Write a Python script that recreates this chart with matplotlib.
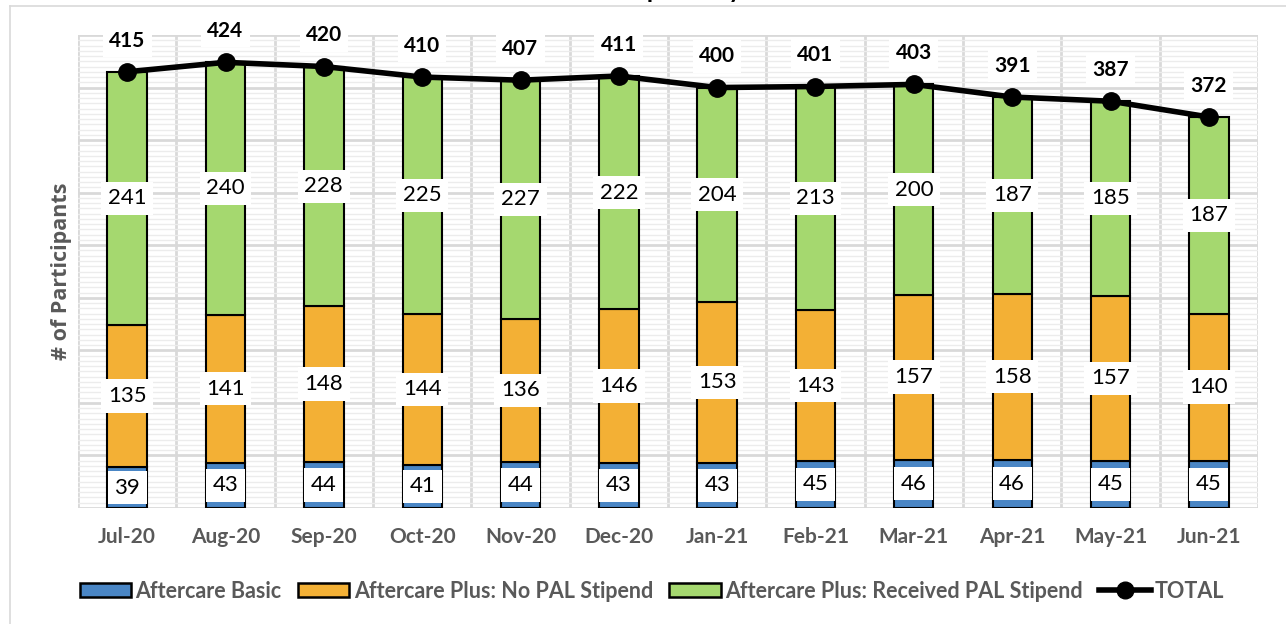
import matplotlib
matplotlib.use('Agg')
import matplotlib.pyplot as plt
import numpy as np
from matplotlib.ticker import MultipleLocator
from matplotlib.lines import Line2D
from matplotlib.patches import Patch

months = ['Jul-20', 'Aug-20', 'Sep-20', 'Oct-20', 'Nov-20', 'Dec-20',
          'Jan-21', 'Feb-21', 'Mar-21', 'Apr-21', 'May-21', 'Jun-21']
basic = [39, 43, 44, 41, 44, 43, 43, 45, 46, 46, 45, 45]
no_pal = [135, 141, 148, 144, 136, 146, 153, 143, 157, 158, 157, 140]
pal = [241, 240, 228, 225, 227, 222, 204, 213, 200, 187, 185, 187]
total = [415, 424, 420, 410, 407, 411, 400, 401, 403, 391, 387, 372]

series_names = ['Aftercare Basic', 'Aftercare Plus: No PAL Stipend',
                'Aftercare Plus: Received PAL Stipend']
colors = ['#4a86c5', '#f3b035', '#a5d86f']
gray = '#595959'

W, H = 1286, 624
fig = plt.figure(figsize=(W / 100, H / 100), dpi=100)
ax = fig.add_axes([78 / W, 1 - 508 / H, 1180 / W, (508 - 35) / H])

x = np.arange(len(months))
width = 0.4
bottoms = np.zeros(len(months))
for vals, col, name in zip([basic, no_pal, pal], colors, series_names):
    vals = np.array(vals, dtype=float)
    ax.bar(x, vals, width, bottom=bottoms, color=col, edgecolor='black',
           linewidth=1.5, zorder=3, label=name)
    for xi, b, v in zip(x, bottoms, vals):
        ax.text(xi, b + v / 2, f'{int(v)}', ha='center', va='center',
                fontsize=16, family='Lato', color='black', zorder=6,
                bbox=dict(boxstyle='square,pad=0.3', fc='white', ec='none'))
    bottoms += vals

ax.plot(x, total, color='black', lw=4, marker='o', markersize=12.5,
        zorder=5, label='TOTAL')
for xi, t in zip(x, total):
    ax.annotate(f'{t}', (xi, t), xytext=(0, 22.5), textcoords='offset points',
                ha='center', va='center', fontsize=15, fontweight='bold',
                family='Lato', zorder=6,
                bbox=dict(boxstyle='square,pad=0.3', fc='white', ec='none'))

ax.set_xlim(-0.5, len(months) - 0.5)
ax.set_ylim(0, 450)
ax.yaxis.set_major_locator(MultipleLocator(50))
ax.yaxis.set_minor_locator(MultipleLocator(5))
ax.set_xticks(np.arange(-0.5, len(months)), minor=True)
ax.set_xticks(x)
ax.set_xticklabels(months, fontsize=15, fontweight='bold', color=gray,
                   family='Lato')
ax.tick_params(axis='x', which='both', length=0, pad=14)
ax.tick_params(axis='y', which='both', length=0, labelleft=False)
ax.grid(axis='y', which='minor', color='#ececec', lw=1, zorder=0)
ax.grid(axis='y', which='major', color='#d9d9d9', lw=2, zorder=1)
ax.grid(axis='x', which='minor', color='#d9d9d9', lw=2, zorder=1)
ax.grid(axis='x', which='major', visible=False)
for s in ax.spines.values():
    s.set_visible(False)
ax.set_axisbelow(True)

fig.text(62 / W, 1 - 271 / H, '# of Participants', rotation=90, ha='center',
         va='center', fontsize=15.5, fontweight='bold', color=gray,
         family='Open Sans')

# title, clipped at the top edge as in the reference
fig.text(0.5, 1 + 2 / H, 'Aftercare Participants by Month', ha='center',
         va='baseline', fontsize=18, fontweight='bold', family='Lato')

# outer chart frame
fig.add_artist(Line2D([10 / W, 1], [1 - 6 / H, 1 - 6 / H], color='#d9d9d9',
                      lw=1.2, transform=fig.transFigure))
fig.add_artist(Line2D([10 / W, 10 / W], [0, 1 - 6 / H], color='#d9d9d9',
                      lw=1.2, transform=fig.transFigure))

handles = [Patch(facecolor=c, edgecolor='black', lw=1.8) for c in colors]
handles.append(Line2D([0], [0], color='black', lw=4, marker='o',
                      markersize=12))
leg = fig.legend(handles, series_names + ['TOTAL'], loc='center',
                 bbox_to_anchor=(652 / W, 1 - 591 / H), ncol=4, frameon=False,
                 handlelength=2.4, handleheight=0.65, handletextpad=0.2,
                 columnspacing=0.75,
                 prop=dict(family='Lato', weight='bold', size=15.5))
for t in leg.get_texts():
    t.set_color(gray)

fig.savefig('out.png', dpi=100)
